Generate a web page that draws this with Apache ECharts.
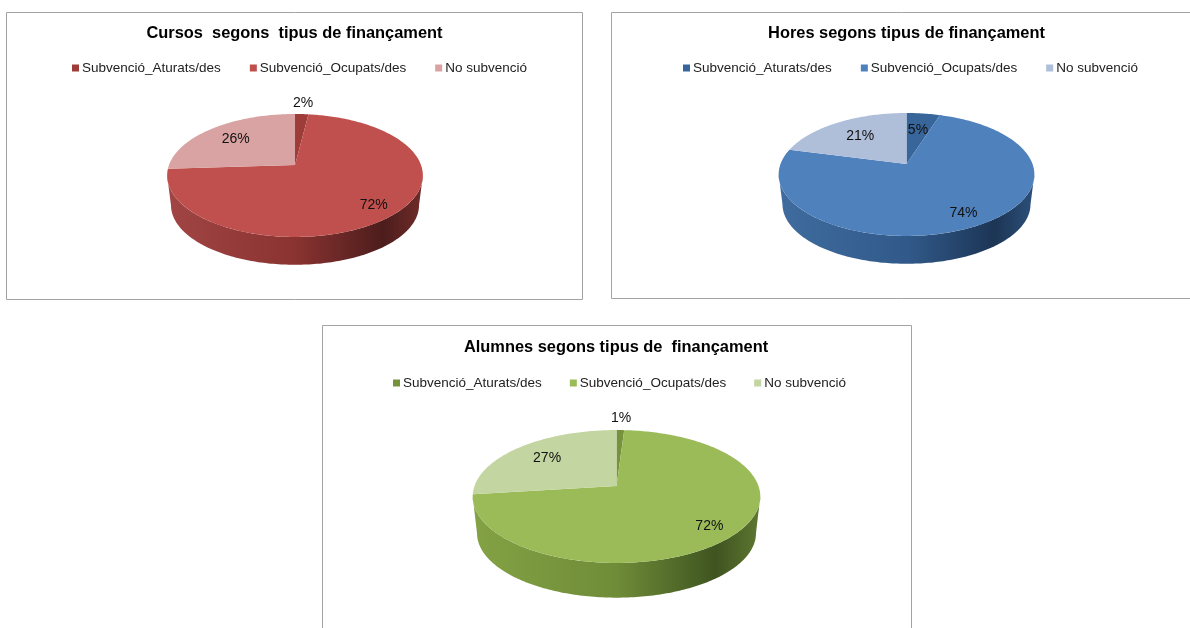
<!DOCTYPE html>
<html>
<head>
<meta charset="utf-8">
<style>
  html, body { margin: 0; padding: 0; background: #fff; }
  #main { width: 1190px; height: 628px; }
</style>
<script src="https://cdn.jsdelivr.net/npm/echarts@6/dist/echarts.min.js"></script>
</head>
<body>
<div id="main"></div>
<script>
const categories = ['Subvenció_Aturats/des', 'Subvenció_Ocupats/des', 'No subvenció']
const chartTitles = [
  'Cursos  segons  tipus de finançament',
  'Hores segons tipus de finançament',
  'Alumnes segons tipus de  finançament'
]
const cursosValues = [2, 72, 26]
const horesValues = [5, 74, 21]
const alumnesValues = [1, 72, 27]
const allValues = [cursosValues, horesValues, alumnesValues]

const sliceColors = [
  ['#9e3c3a', '#c0504d', '#d8a3a2'],
  ['#38669b', '#4f81bd', '#b0bfd9'],
  ['#76923c', '#9bbb59', '#c3d5a0']
]
const wallColors = [
  ['#a04543', '#8a3331', '#4c1d1c', '#6e2b29'],
  ['#3f6b9e', '#315a8a', '#1c3555', '#2c4f78'],
  ['#83a244', '#6f8c38', '#3f5420', '#5d7630']
]

// layout of each panel, the pie is a tilted circle seen in perspective
const panels = [
  { frame: [6.5, 12.5, 576, 287], titleX: 294.5, titleY: 25.5, legendX: 72, legendY: 61, legendGap: 29,
    pie: { cx: 295, cy: 165, a: 126, b: 59.7, k: 0.17, depth: 30 }, labelR: [1.21, 0.8, 0.72] },
  { frame: [611.5, 12.5, 600, 286], titleX: 906.5, titleY: 25.5, legendX: 683, legendY: 61, legendGap: 29,
    pie: { cx: 906.5, cy: 164, a: 126, b: 59.7, k: 0.17, depth: 30 }, labelR: [0.68, 0.8, 0.68] },
  { frame: [322.5, 325.5, 589, 320], titleX: 616, titleY: 339.5, legendX: 393, legendY: 376, legendGap: 28,
    pie: { cx: 616.5, cy: 486, a: 142, b: 64.8, k: 0.158, depth: 37 }, labelR: [1.21, 0.8, 0.72] }
]

const fontFamily = '"Liberation Sans", Arial, sans-serif'

function project(pie, deg, lower) {
  const t = deg * Math.PI / 180
  const x = Math.sin(t)
  const z = Math.cos(t)
  const s = 1 / (1 + pie.k * z)
  const px = pie.a * x * s
  const py = pie.b * z * s
  if (lower) return [pie.cx + px * 0.97, pie.cy - py * 0.97 + pie.depth]
  return [pie.cx + px, pie.cy - py]
}

function arcPoints(pie, from, to, lower) {
  const pts = []
  const n = Math.max(2, Math.ceil(Math.abs(to - from)))
  for (let i = 0; i <= n; i++) {
    pts.push(project(pie, from + (to - from) * i / n, lower))
  }
  return pts
}

function makeSlice(chartIdx, sliceIdx) {
  return function (params, api) {
    const values = allValues[chartIdx]
    const panel = panels[chartIdx]
    const pie = panel.pie
    const sum = values.reduce((a, b) => a + b, 0)
    const before = values.slice(0, sliceIdx).reduce((a, b) => a + b, 0)
    const value = api.value(0)
    const start = before / sum * 360
    const end = (before + value) / sum * 360
    const children = []

    // outer wall, only the part facing the viewer
    const right = Math.acos(-pie.k) * 180 / Math.PI
    const left = 360 - right
    const from = Math.max(start, right)
    const to = Math.min(end, left)
    if (to > from) {
      const wall = arcPoints(pie, from, to, false).concat(arcPoints(pie, to, from, true))
      const w = wallColors[chartIdx]
      children.push({
        type: 'polygon',
        shape: { points: wall },
        style: {
          fill: new echarts.graphic.LinearGradient(pie.cx - pie.a, 0, pie.cx + pie.a, 0, [
            { offset: 0, color: w[0] },
            { offset: 0.5, color: w[1] },
            { offset: 0.85, color: w[2] },
            { offset: 1, color: w[3] }
          ], true)
        }
      })
    }

    // top face
    const face = [[pie.cx, pie.cy]].concat(arcPoints(pie, start, end, false))
    children.push({
      type: 'polygon',
      shape: { points: face },
      style: { fill: sliceColors[chartIdx][sliceIdx] }
    })

    const mid = project(pie, (start + end) / 2, false)
    const f = panel.labelR[sliceIdx]
    children.push({
      type: 'text',
      z2: 10,
      style: {
        text: Math.round(value / sum * 100) + '%',
        x: pie.cx + (mid[0] - pie.cx) * f,
        y: pie.cy + (mid[1] - pie.cy) * f,
        align: 'center',
        verticalAlign: 'middle',
        font: '14px ' + fontFamily,
        fill: '#111'
      }
    })
    return { type: 'group', children: children }
  }
}

const series = []
allValues.forEach((values, c) => {
  values.forEach((v, i) => {
    series.push({
      type: 'custom',
      name: categories[i],
      coordinateSystem: 'none',
      silent: true,
      animation: false,
      renderItem: makeSlice(c, i),
      data: [[v]]
    })
  })
})

const option = {
  backgroundColor: '#fff',
  animation: false,
  title: panels.map((p, c) => ({
    text: chartTitles[c],
    left: p.titleX,
    top: p.titleY,
    textAlign: 'center',
    padding: 0,
    textStyle: { fontFamily: fontFamily, fontSize: 16.4, fontWeight: 'bold', color: '#000' }
  })),
  legend: panels.map((p, c) => ({
    left: p.legendX,
    top: p.legendY,
    orient: 'horizontal',
    padding: 0,
    itemGap: p.legendGap,
    itemWidth: 7,
    itemHeight: 7,
    itemStyle: { borderWidth: 0 },
    selectedMode: false,
    icon: 'rect',
    textStyle: { fontFamily: fontFamily, fontSize: 13.5, color: '#222', padding: [0, 0, 0, -2] },
    data: categories.map((name, i) => ({ name: name, itemStyle: { color: sliceColors[c][i] } }))
  })),
  graphic: panels.map(p => ({
    type: 'rect',
    silent: true,
    z: -1,
    shape: { x: p.frame[0], y: p.frame[1], width: p.frame[2], height: p.frame[3] },
    style: { fill: '#fff', stroke: '#a3a3a3', lineWidth: 1 }
  })),
  series: series
}

const myChart = echarts.init(document.getElementById('main'))
myChart.setOption(option)
</script>
</body>
</html>
